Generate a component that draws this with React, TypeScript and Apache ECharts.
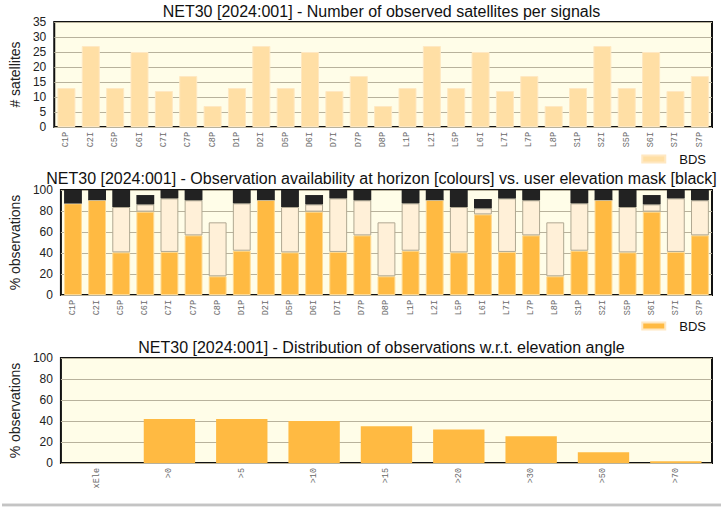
import React, { useEffect, useRef } from "react";
import * as echarts from "echarts";

const signals = [
  "C1P", "C2I", "C5P", "C6I", "C7I", "C7P", "C8P",
  "D1P", "D2I", "D5P", "D6I", "D7I", "D7P", "D8P",
  "L1P", "L2I", "L5P", "L6I", "L7I", "L7P", "L8P",
  "S1P", "S2I", "S5P", "S6I", "S7I", "S7P",
];
const satCount = [
  13, 27, 13, 25, 12, 17, 7,
  13, 27, 13, 25, 12, 17, 7,
  13, 27, 13, 25, 12, 17, 7,
  13, 27, 13, 25, 12, 17,
];
// top of orange part (% obs)
const availOrange = [
  87.3, 90.5, 40.6, 79.4, 41, 56.8, 17.8,
  42.2, 90.5, 40.6, 79.4, 41, 56.8, 17.8,
  42.2, 90.5, 40.6, 76.8, 41, 56.8, 17.8,
  42.2, 90.5, 40.6, 79.4, 41, 56.8,
];
// top of light part (% obs, horizon)
const availLight = [
  87.3, 90.5, 83.8, 86.3, 92, 90.2, 69.2,
  87.3, 90.5, 83.8, 86.3, 92, 90.2, 69.2,
  87.3, 90.5, 83.8, 82.5, 92, 90.2, 69.2,
  87.3, 90.5, 83.8, 86.3, 92, 90.2,
];
// top of black part (% obs, user mask)
const availBlack = [
  100, 100, 100, 95.2, 100, 100, 69.2,
  100, 100, 100, 95.2, 100, 100, 69.2,
  100, 100, 100, 91.4, 100, 100, 69.2,
  100, 100, 100, 95.2, 100, 100,
];
const elevCats = ["xEle", ">0", ">5", ">10", ">15", ">20", ">30", ">50", ">70"];
const elevPct = [0, 41.9, 41.8, 40, 34.9, 32, 25.4, 10.2, 1.6];

const titles = [
  "NET30 [2024:001] - Number of observed satellites per signals",
  "NET30 [2024:001] - Observation availability at horizon [colours] vs. user elevation mask [black]",
  "NET30 [2024:001] - Distribution of observations w.r.t. elevation angle",
];

const PEACH = "#FFDFA5";
const ORANGE = "#FFBA42";
const LIGHT = "#FFF0D8";
const BLACK = "#222222";
const PLOTBG = "#FFFDE8";
const GRIDC = "#B8B29C";
const SANS = "Liberation Sans, Arial, sans-serif";
const MONO = "Liberation Mono, Courier New, monospace";

export default function App() {
  const ref = useRef<HTMLDivElement>(null);
  useEffect(() => {
    if (!ref.current) return;
    const chart = echarts.init(ref.current, undefined, { renderer: "svg" });
    const gridTops = [22, 190, 358];
    const grids = gridTops.map((t) => ({
      left: 51,
      top: t,
      width: 661,
      height: 105,
      show: true,
      backgroundColor: PLOTBG,
      borderColor: "#111",
      borderWidth: 2,
      z: 0,
    }));
    const xAxisCommon = {
      type: "category" as const,
      axisLine: { show: false },
      axisTick: { show: false },
      axisLabel: {
        rotate: 90,
        margin: 5,
        fontFamily: MONO,
        fontSize: 8.5,
        color: "#6a6a6a",
        interval: 0,
      },
    };
    const yAxisCommon = {
      type: "value" as const,
      min: 0,
      axisLine: { show: false },
      axisTick: { show: false },
      splitLine: { lineStyle: { color: GRIDC, width: 1 } },
      axisLabel: { fontFamily: SANS, fontSize: 12, color: "#222", margin: 8 },
      nameLocation: "middle" as const,
      nameGap: 28,
      nameTextStyle: { fontFamily: SANS, fontSize: 14, color: "#222" },
    };
    const lightVals = availLight.map((v, i) => +(v - availOrange[i]).toFixed(2));
    const blackVals = availBlack.map((v, i) => +(v - availLight[i]).toFixed(2));

    chart.setOption({
      animation: false,
      backgroundColor: "#fff",
      title: titles.map((t, i) => ({
        text: t,
        left: 381.5,
        textAlign: "center",
        padding: 0,
        top: [3, 170.5, 339][i],
        textStyle: { fontFamily: SANS, fontSize: 16, fontWeight: "normal", color: "#111", lineHeight: 16 },
      })),
      legend: [
        {
          right: 10,
          top: 150.5,
          padding: [2, 5, 0, 5],
          itemWidth: 23,
          itemHeight: 7,
          icon: "rect",
          textStyle: { fontFamily: SANS, fontSize: 13, color: "#111", padding: [0, 0, 0, 9], lineHeight: 13 },
          data: [{ name: "BDS", itemStyle: { color: PEACH } }],
          selectedMode: false,
        },
        {
          right: 10,
          top: 317.5,
          padding: [2, 5, 0, 5],
          itemWidth: 23,
          itemHeight: 7,
          icon: "rect",
          textStyle: { fontFamily: SANS, fontSize: 13, color: "#111", padding: [0, 0, 0, 9], lineHeight: 13 },
          data: [{ name: "BDS", itemStyle: { color: ORANGE } }],
          selectedMode: false,
        },
      ],
      grid: grids,
      xAxis: [
        { ...xAxisCommon, gridIndex: 0, data: signals },
        { ...xAxisCommon, gridIndex: 1, data: signals },
        { ...xAxisCommon, gridIndex: 2, data: elevCats },
      ],
      yAxis: [
        { ...yAxisCommon, gridIndex: 0, max: 35, interval: 5, name: "# satellites" },
        { ...yAxisCommon, gridIndex: 1, max: 100, interval: 20, name: "% observations" },
        { ...yAxisCommon, gridIndex: 2, max: 100, interval: 20, name: "% observations" },
      ],
      series: [
        {
          name: "BDS",
          type: "bar",
          xAxisIndex: 0,
          yAxisIndex: 0,
          data: satCount,
          barCategoryGap: "26%",
          itemStyle: { color: PEACH, borderColor: "#FFE8C2", borderWidth: 1 },
        },
        {
          name: "BDS",
          type: "bar",
          xAxisIndex: 1,
          yAxisIndex: 1,
          stack: "avail",
          data: availOrange,
          barCategoryGap: "26%",
          itemStyle: { color: ORANGE, borderColor: "#FFD98F", borderWidth: 1 },
        },
        {
          name: "horizon",
          type: "bar",
          xAxisIndex: 1,
          yAxisIndex: 1,
          stack: "avail",
          data: lightVals,
          barCategoryGap: "26%",
          itemStyle: { color: LIGHT, borderColor: "#B0A892", borderWidth: 1 },
        },
        {
          name: "mask",
          type: "bar",
          xAxisIndex: 1,
          yAxisIndex: 1,
          stack: "avail",
          data: blackVals,
          barCategoryGap: "26%",
          itemStyle: { color: BLACK, borderColor: BLACK, borderWidth: 0 },
        },
        {
          name: "elevation",
          type: "bar",
          xAxisIndex: 2,
          yAxisIndex: 2,
          data: elevPct,
          barCategoryGap: "29%",
          itemStyle: { color: ORANGE, borderWidth: 0 },
        },
      ],
      graphic: [
        { type: "rect", shape: { x: 2, y: 503, width: 719, height: 1 }, style: { fill: "#e4e4e4" }, silent: true },
        { type: "rect", shape: { x: 2, y: 504, width: 719, height: 2 }, style: { fill: "#c4c4c4" }, silent: true },
        { type: "rect", shape: { x: 2, y: 506, width: 719, height: 1 }, style: { fill: "#e8e8e8" }, silent: true },
      ],
    });
    return () => chart.dispose();
  }, []);
  return (
    <div
      ref={ref}
      style={{ position: "absolute", left: 0, top: 0, width: 721, height: 508 }}
    />
  );
}
